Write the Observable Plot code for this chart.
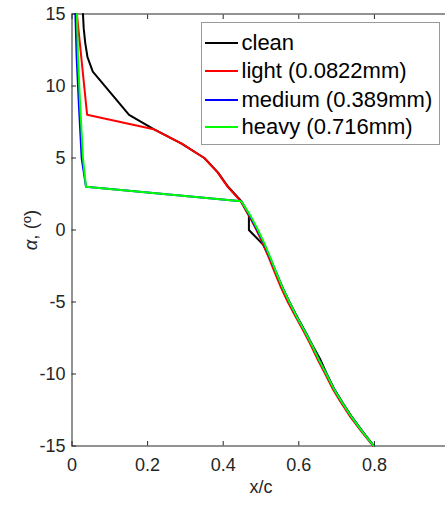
<!DOCTYPE html>
<html><head><meta charset="utf-8">
<script src="https://cdn.jsdelivr.net/npm/d3@7"></script>
<script src="https://cdn.jsdelivr.net/npm/@observablehq/plot@0.6"></script>
<style>
html,body{margin:0;padding:0;background:#fff;overflow:hidden}
#wrap{position:relative;width:450px;height:507px;overflow:hidden;font-family:"Liberation Sans",Arial,sans-serif}
#ylab{position:absolute;left:30px;top:230px;transform:translate(-50%,-50%) rotate(-90deg);font-size:18.5px;color:#262626;white-space:nowrap}
#ylab sup{font-size:13px;vertical-align:6px}
#legend{position:absolute;left:200.5px;top:22px;width:239px;height:123px;border:1px solid #999;background:#fff;box-sizing:border-box}
.row{position:absolute;left:0;height:28px;display:flex;align-items:center}
.sw{display:inline-block;width:33px;height:2px;margin-left:3px;margin-right:4px}
.lt{font-size:22px;color:#000;white-space:nowrap}
</style></head><body><div id="wrap"></div>
<script>
// Series names and colours
const seriesNames = ["clean", "light (0.0822mm)", "medium (0.389mm)", "heavy (0.716mm)"];
const seriesColors = ["#000000", "#ff0000", "#0000ff", "#00ff00"];

// clean
const alphaClean = [15, 14, 13, 12, 11, 8, 7, 6, 5, 4, 3, 2, 1, 0, -1, -2, -3, -4, -5, -6, -7, -8, -9, -10, -11, -12, -13, -14, -15];
const xClean = [0.029, 0.031, 0.035, 0.041, 0.055, 0.151, 0.216, 0.290, 0.350, 0.386, 0.413, 0.448, 0.468, 0.468, 0.505, 0.524, 0.540, 0.557, 0.575, 0.595, 0.616, 0.636, 0.657, 0.674, 0.693, 0.716, 0.741, 0.769, 0.799];

// light (0.0822mm)
const alphaLight = [15, 8, 7, 6, 5, 4, 3, 2, 1, 0, -1, -2, -3, -4, -5, -6, -7, -8, -9, -10, -11, -12, -13, -14, -15];
const xLight = [0.013, 0.040, 0.216, 0.290, 0.350, 0.385, 0.412, 0.446, 0.468, 0.488, 0.506, 0.522, 0.537, 0.553, 0.571, 0.591, 0.612, 0.632, 0.650, 0.670, 0.689, 0.712, 0.737, 0.766, 0.797];

// medium (0.389mm)
const alphaMedium = [15, 12, 9, 5, 3, 2, 1, 0, -1, -2, -3, -4, -5, -6, -7, -8, -9, -10, -11, -12, -13, -14, -15];
const xMedium = [0.009, 0.0123, 0.0176, 0.0255, 0.037, 0.448, 0.470, 0.490, 0.509, 0.525, 0.541, 0.557, 0.575, 0.594, 0.615, 0.635, 0.653, 0.673, 0.692, 0.715, 0.740, 0.768, 0.798];

// heavy (0.716mm)
const alphaHeavy = [15, 12, 9, 5, 3, 2, 1, 0, -1, -2, -3, -4, -5, -6, -7, -8, -9, -10, -11, -12, -13, -14, -15];
const xHeavy = [0.013, 0.0158, 0.021, 0.029, 0.037, 0.448, 0.472, 0.492, 0.510, 0.526, 0.541, 0.557, 0.575, 0.594, 0.615, 0.635, 0.653, 0.673, 0.692, 0.715, 0.740, 0.768, 0.798];

// ticks
const xTicks = [0, 0.2, 0.4, 0.6, 0.8];
const yTicks = [-15, -10, -5, 0, 5, 10, 15];

const seriesAlpha = [alphaClean, alphaLight, alphaMedium, alphaHeavy];
const seriesX = [xClean, xLight, xMedium, xHeavy];
const rows = seriesNames.flatMap((name, s) => seriesAlpha[s].map((a, i) => ({series: name, x: seriesX[s][i], alpha: a})));

const ink = "#262626";
const chart = Plot.plot({
  width: 450, height: 507,
  marginLeft: 71.5, marginRight: 0.5, marginTop: 13.5, marginBottom: 61.5,
  x: {domain: [0, 1]},
  y: {domain: [-15, 15]},
  style: {fontFamily: "'Liberation Sans', Arial, sans-serif", fontSize: "18px", color: ink, background: "white", maxWidth: "none"},
  marks: [
    Plot.frame({stroke: ink, strokeWidth: 1}),
    Plot.axisX(xTicks, {anchor: "bottom", tickSize: -4.5, tickPadding: 16.5, tickFormat: d => String(d), label: null, fill: ink, stroke: ink}),
    Plot.axisX(xTicks, {anchor: "top", tickSize: -4.5, tickFormat: () => "", label: null, stroke: ink}),
    Plot.axisY(yTicks, {anchor: "left", tickSize: -4.5, tickPadding: 11, tickFormat: d => String(d), label: null, fill: ink, stroke: ink}),
    Plot.axisY(yTicks, {anchor: "right", tickSize: -4.5, tickFormat: () => "", label: null, stroke: ink}),
    ...seriesNames.map((name, s) => Plot.line(rows.filter(r => r.series === name), {x: "x", y: "alpha", stroke: seriesColors[s], strokeWidth: 2})),
    Plot.text(["x/c"], {text: d => d, frameAnchor: "bottom", dy: 47, fill: ink, fontSize: 18})
  ]
});
const wrap = document.getElementById("wrap");
wrap.appendChild(chart);

const yl = document.createElement("div");
yl.id = "ylab";
yl.innerHTML = "<i>α</i>, (<sup>o</sup>)";
wrap.appendChild(yl);

const lg = document.createElement("div");
lg.id = "legend";
const centers = [19.5, 47.8, 76.5, 104.4];
seriesNames.forEach((name, s) => {
  const r = document.createElement("div");
  r.className = "row";
  r.style.top = (centers[s] - 14) + "px";
  const sw = document.createElement("span");
  sw.className = "sw"; sw.style.background = seriesColors[s];
  const t = document.createElement("span");
  t.className = "lt"; t.textContent = name;
  r.appendChild(sw); r.appendChild(t);
  lg.appendChild(r);
});
wrap.appendChild(lg);
</script></body></html>
